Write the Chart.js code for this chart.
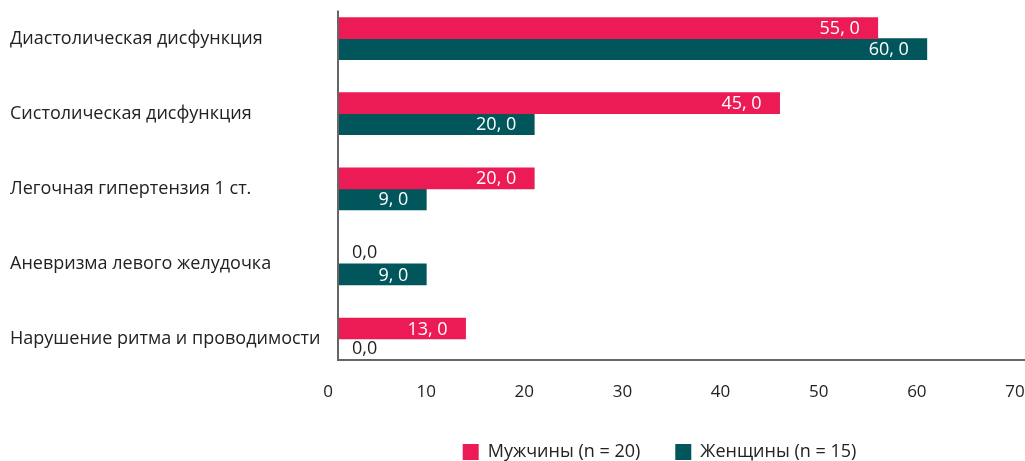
<!DOCTYPE html>
<html>
<head>
<meta charset="utf-8">
<script src="https://cdn.jsdelivr.net/npm/chart.js@4.4.1/dist/chart.umd.min.js"></script>
<style>
  html, body { margin: 0; padding: 0; background: #fff; }
  #wrap { width: 1025px; height: 461px; position: relative; }
</style>
</head>
<body>
<div id="wrap"><canvas id="chart"></canvas></div>
<script>
// ===== DATA =====
const categories = [
  'Диастолическая дисфункция',
  'Систолическая дисфункция',
  'Легочная гипертензия 1 ст.',
  'Аневризма левого желудочка',
  'Нарушение ритма и проводимости'
];
const menValues = [55, 45, 20, 0, 13];
const womenValues = [60, 20, 9, 9, 0];
const seriesNames = ['Мужчины (n = 20)', 'Женщины (n = 15)'];
const xTicks = [0, 10, 20, 30, 40, 50, 60, 70];

const FONT = 'Open Sans';
const PINK = '#EC1A55';
const TEAL = '#00565B';
const TEXT = '#222';

// value labels: white inside the bar end, "0,0" outside for zero values
const valueLabels = {
  id: 'valueLabels',
  afterDatasetsDraw(chart) {
    const ctx = chart.ctx;
    ctx.save();
    ctx.font = '18px "' + FONT + '"';
    ctx.textBaseline = 'middle';
    chart.data.datasets.forEach((ds, di) => {
      const meta = chart.getDatasetMeta(di);
      meta.data.forEach((bar, i) => {
        const v = ds.data[i];
        if (v > 0) {
          ctx.fillStyle = '#fff';
          ctx.textAlign = 'right';
          ctx.fillText(v + ', 0', bar.x - 18, bar.y + 1);
        } else {
          ctx.fillStyle = TEXT;
          ctx.textAlign = 'left';
          ctx.fillText('0,0', bar.base + 14, bar.y - 1);
        }
      });
    });
    ctx.restore();
  }
};

// axis lines hugging the bars
const axisLines = {
  id: 'axisLines',
  afterDatasetsDraw(chart) {
    const area = chart.chartArea;
    const first = chart.getDatasetMeta(0).data[0];
    const last = chart.getDatasetMeta(1).data[categories.length - 1];
    const top = first.y - first.height / 2 - 7;
    const bottom = last.y + last.height / 2;
    const ctx = chart.ctx;
    ctx.save();
    ctx.strokeStyle = '#666';
    ctx.lineWidth = 2;
    ctx.beginPath();
    ctx.moveTo(area.left, top);
    ctx.lineTo(area.left, bottom);
    ctx.lineTo(area.right, bottom);
    ctx.stroke();
    ctx.restore();
  }
};

// move the legend to where the original sits
const legendShift = {
  id: 'legendShift',
  afterLayout(chart) {
    const lg = chart.legend;
    lg.left += 142;
    lg.right += 142;
    lg.top += 1;
    lg.bottom += 1;
  }
};

new Chart(document.getElementById('chart').getContext('2d'), {
  type: 'bar',
  data: {
    labels: categories,
    datasets: [
      { label: seriesNames[0], data: menValues, backgroundColor: PINK, barThickness: 21 },
      { label: seriesNames[1], data: womenValues, backgroundColor: TEAL, barThickness: 21 }
    ]
  },
  options: {
    indexAxis: 'y',
    responsive: true,
    maintainAspectRatio: false,
    animation: false,
    layout: { padding: { left: 10, top: 1, right: 0, bottom: 0 } },
    plugins: {
      legend: {
        position: 'bottom',
        maxHeight: 54,
        labels: {
          boxWidth: 16,
          boxHeight: 16,
          padding: 35,
          color: TEXT,
          font: { family: FONT, size: 18 }
        }
      },
      tooltip: { enabled: false }
    },
    scales: {
      x: {
        min: 0,
        max: 70,
        afterBuildTicks(scale) { scale.ticks = xTicks.map(v => ({ value: v })); },
        afterFit(scale) { scale.paddingLeft = 0; scale.paddingRight = 0; },
        grid: { display: false, drawTicks: false },
        border: { display: false },
        ticks: { padding: 5, labelOffset: -10, color: TEXT, font: { family: FONT, size: 17 } }
      },
      y: {
        grid: { display: false, drawTicks: false },
        border: { display: false },
        afterFit(scale) { scale.width = 328; scale.paddingTop = 0; scale.paddingBottom = 0; },
        ticks: { crossAlign: 'far', color: TEXT, font: { family: FONT, size: 18 } }
      }
    }
  },
  plugins: [valueLabels, axisLines, legendShift]
});
</script>
</body>
</html>
